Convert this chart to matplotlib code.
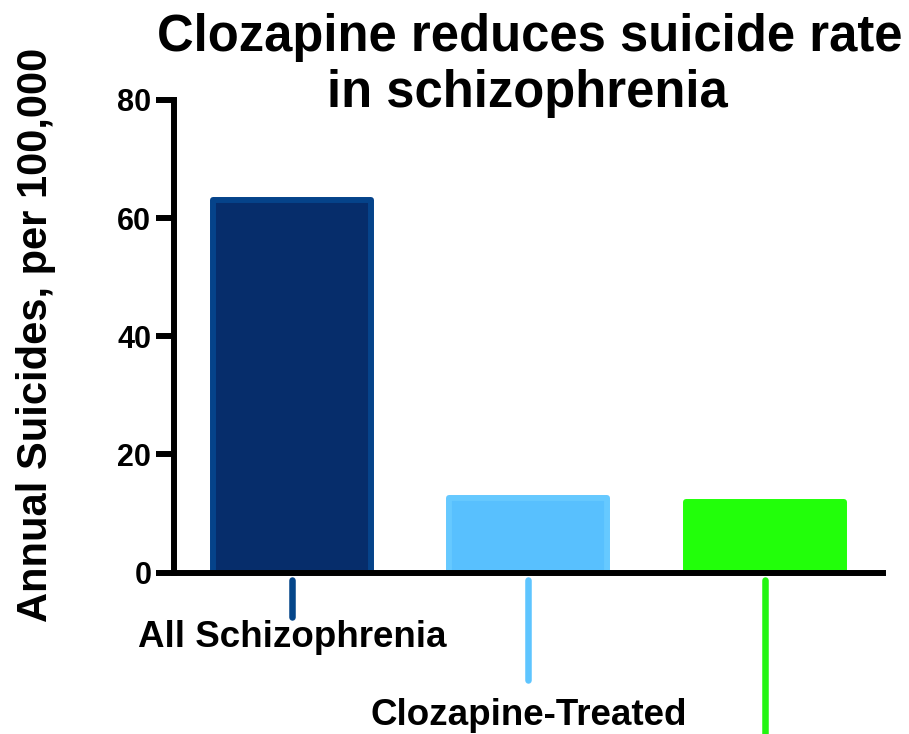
import numpy as np
import matplotlib
matplotlib.use('Agg')
import matplotlib.pyplot as plt

plt.rcParams['font.family'] = ['Liberation Sans', 'DejaVu Sans']
plt.rcParams['font.weight'] = 'bold'

# data
groups = ['All Schizophrenia', 'Clozapine-Treated', '']
rates = [63.0, 12.6, 12.0]
yticks = [0, 20, 40, 60, 80]

fill_colors = ['#062d6b', '#58c0fe', '#22ff0a']
edge_colors = ['#05438a', '#66c9ff', '#22ff0a']
tick_colors = ['#05468a', '#5ec5ff', '#22f511']

fig = plt.figure(figsize=(9.09, 7.34), dpi=100)
ax = fig.add_axes([0.1909, 0.2198, 0.9714 - 0.1909, 0.8638 - 0.2198])

x = np.arange(len(rates))
ax.bar(x, rates, width=0.668, color=fill_colors, edgecolor=edge_colors,
       linewidth=4.3, joinstyle='round', zorder=1)

ax.set_xlim(-0.5, 2.5)
ax.set_ylim(0, 80)
ax.set_yticks(yticks)
ax.set_yticklabels([str(t) for t in yticks], fontsize=22, fontweight='bold')
ax.tick_params(axis='y', length=13, width=4.3, pad=3)
ax.set_xticks([])

for s in ['top', 'right']:
    ax.spines[s].set_visible(False)
for s in ['left', 'bottom']:
    ax.spines[s].set_linewidth(4.3)
    ax.spines[s].set_capstyle('projecting')
    ax.spines[s].set_zorder(3)

# staggered coloured ticks and labels under the axis
tick_ends = [-7.5, -18.1, -40]
label_y = [-12.6, -25.8, -39]
for i in range(len(groups)):
    ax.plot([x[i], x[i]], [-1.2, tick_ends[i]], color=tick_colors[i], lw=4.7,
            solid_capstyle='round', clip_on=False)
    ax.text(x[i], label_y[i], groups[i], ha='center', va='baseline',
            fontsize=26.5, fontweight='bold', clip_on=False)

ax.set_ylabel('Annual Suicides, per 100,000', fontsize=30, fontweight='bold')
ax.yaxis.set_label_coords(-0.166, 0.503)

fig.text(530 / 909, 1 - 51 / 734, 'Clozapine reduces suicide rate', ha='center', va='baseline',
         fontsize=36.5, fontweight='bold')
fig.text(527 / 909, 1 - 107 / 734, 'in schizophrenia', ha='center', va='baseline',
         fontsize=36.5, fontweight='bold')

fig.savefig('out.png', dpi=100)
